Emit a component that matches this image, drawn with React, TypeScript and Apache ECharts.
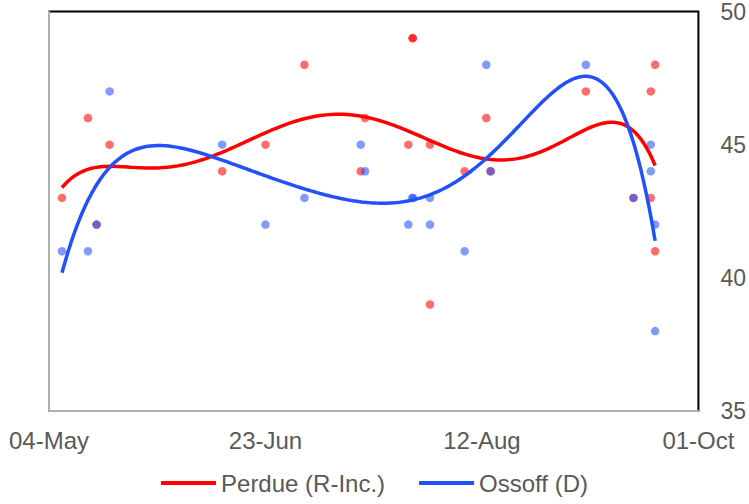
import React, { useEffect, useRef } from "react";
import * as echarts from "echarts";

const START_DATE = "2020-05-04";
const END_DATE = "2020-10-01";
const pollDates = [
  "2020-05-07", "2020-05-13", "2020-05-15", "2020-05-18", "2020-06-13", "2020-06-23",
  "2020-07-02", "2020-07-15", "2020-07-16", "2020-07-26", "2020-07-27", "2020-07-27",
  "2020-07-31", "2020-07-31", "2020-08-08", "2020-08-13", "2020-08-14", "2020-09-05",
  "2020-09-16", "2020-09-20", "2020-09-20", "2020-09-21", "2020-09-21",
];
const perdue = [43, 46, 42, 45, 44, 45, 48, 44, 46, 45, 49, 49, 45, 39, 44, 46, 44, 47, 43, 47, 43, 48, 41];
const ossoff = [41, 41, 42, 47, 45, 42, 43, 45, 44, 42, 43, 43, 43, 42, 41, 48, 44, 48, 43, 45, 44, 42, 38];
const seriesNames = ["Perdue (R-Inc.)", "Ossoff (D)"];
const yTicks = [35, 40, 45, 50];
const MONTHS = ["Jan", "Feb", "Mar", "Apr", "May", "Jun", "Jul", "Aug", "Sep", "Oct", "Nov", "Dec"];

const DAY = 86400000;
const toUTC = (s: string) => Date.parse(s + "T00:00:00Z");
const startMs = toUTC(START_DATE);
const dayOf = (s: string) => Math.round((toUTC(s) - startMs) / DAY);
const xDays = pollDates.map(dayOf);
const spanDays = dayOf(END_DATE);

function polyFit(xs: number[], ys: number[], deg: number) {
  const xmin = Math.min(...xs), xmax = Math.max(...xs);
  const c = (xmin + xmax) / 2, h = (xmax - xmin) / 2;
  const n = deg + 1;
  const A: number[][] = Array.from({ length: n }, () => new Array(n + 1).fill(0));
  xs.forEach((x, k) => {
    const t = (x - c) / h;
    const pw: number[] = [];
    for (let i = 0; i < n; i++) pw.push(Math.pow(t, i));
    for (let i = 0; i < n; i++) {
      for (let j = 0; j < n; j++) A[i][j] += pw[i] * pw[j];
      A[i][n] += pw[i] * ys[k];
    }
  });
  for (let i = 0; i < n; i++) {
    let p = i;
    for (let r = i + 1; r < n; r++) if (Math.abs(A[r][i]) > Math.abs(A[p][i])) p = r;
    [A[i], A[p]] = [A[p], A[i]];
    for (let r = 0; r < n; r++) {
      if (r === i) continue;
      const f = A[r][i] / A[i][i];
      for (let k = i; k <= n; k++) A[r][k] -= f * A[i][k];
    }
  }
  const coef = A.map((row, i) => row[n] / row[i]);
  const curve: number[][] = [];
  const steps = 200;
  for (let s = 0; s <= steps; s++) {
    const x = xmin + ((xmax - xmin) * s) / steps;
    const t = (x - c) / h;
    let y = 0;
    for (let i = n - 1; i >= 0; i--) y = y * t + coef[i];
    curve.push([x, y]);
  }
  return curve;
}

const fmtDay = (d: number) => {
  const dt = new Date(startMs + d * DAY);
  const dd = String(dt.getUTCDate()).padStart(2, "0");
  return dd + "-" + MONTHS[dt.getUTCMonth()];
};

export default function App() {
  const ref = useRef<HTMLDivElement>(null);
  useEffect(() => {
    if (!ref.current) return;
    const chart = echarts.init(ref.current, null, { renderer: "svg" });
    const red = "#ff0000";
    const blue = "#2050ff";
    const font = "'Liberation Sans', Arial, sans-serif";
    chart.setOption({
      animation: false,
      textStyle: { fontFamily: font },
      grid: {
        left: 49, right: 49, top: 11, bottom: 93,
        show: true, borderColor: "#000", borderWidth: 2,
      },
      legend: {
        data: seriesNames,
        bottom: 4,
        left: "center",
        icon: "rect",
        itemWidth: 55,
        itemHeight: 4,
        itemGap: 34,
        textStyle: { color: "#595959", fontSize: 24, fontFamily: font },
      },
      xAxis: {
        type: "value",
        min: 0,
        max: spanDays,
        interval: 50,
        axisLine: { show: true, lineStyle: { color: "#b0b0b0", width: 2 } },
        axisTick: { show: false },
        splitLine: { show: false },
        axisLabel: {
          formatter: (v: number) => fmtDay(v),
          color: "#595959",
          fontSize: 24,
          margin: 17,
          fontFamily: font,
        },
      },
      yAxis: {
        type: "value",
        position: "right",
        min: yTicks[0],
        max: yTicks[yTicks.length - 1],
        interval: 5,
        axisLine: { show: true, lineStyle: { color: "#b0b0b0", width: 2 } },
        axisTick: { show: false },
        splitLine: { show: false },
        axisLabel: { color: "#595959", fontSize: 23, margin: 22, fontFamily: font },
      },
      series: [
        {
          name: "perdue-points",
          type: "scatter",
          symbolSize: 8.5,
          itemStyle: { color: "rgba(255,0,0,0.72)" },
          data: xDays.map((x, i) => [x, perdue[i]]),
        },
        {
          name: "ossoff-points",
          type: "scatter",
          symbolSize: 8.5,
          itemStyle: { color: "rgba(35,80,255,0.72)" },
          data: xDays.map((x, i) => [x, ossoff[i]]),
        },
        {
          name: seriesNames[0],
          type: "line",
          showSymbol: false,
          color: red,
          lineStyle: { color: red, width: 3.5 },
          data: polyFit(xDays, perdue, 6),
        },
        {
          name: seriesNames[1],
          type: "line",
          showSymbol: false,
          color: blue,
          lineStyle: { color: blue, width: 3.5 },
          data: polyFit(xDays, ossoff, 6),
        },
      ],
    });
    return () => chart.dispose();
  }, []);
  return <div ref={ref} style={{ width: 749, height: 504, position: "absolute", left: 0, top: 0 }} />;
}
